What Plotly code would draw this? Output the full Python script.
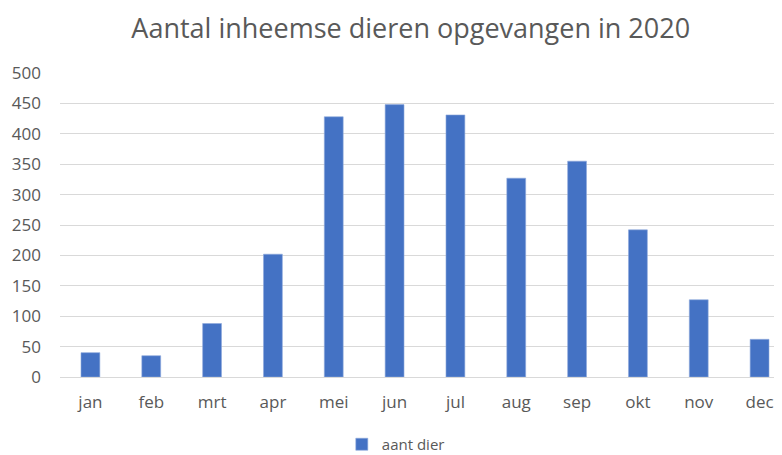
import plotly.graph_objects as go

months = ["jan", "feb", "mrt", "apr", "mei", "jun", "jul", "aug", "sep", "okt", "nov", "dec"]
aant_dier = [40, 35, 88, 202, 428, 448, 431, 327, 355, 242, 127, 62]
series_name = "aant dier"
title_text = "Aantal inheemse dieren opgevangen in 2020"
y_ticks = [0, 50, 100, 150, 200, 250, 300, 350, 400, 450, 500]

fig = go.Figure()
fig.add_trace(go.Bar(
    x=list(range(len(months))), y=aant_dier, name=series_name,
    marker=dict(color="#4472C4", line=dict(color="#8FAADC", width=0.6)),
    width=0.31, showlegend=True,
))

fig.update_layout(
    width=782, height=455,
    margin=dict(l=52, r=0, t=65, b=86),
    paper_bgcolor="white", plot_bgcolor="white",
    font=dict(family="Open Sans", color="#595959", size=15),
    title=dict(text=title_text, x=0.515, xanchor="center", y=0.955, yanchor="middle",
               font=dict(size=27, color="#595959")),
    xaxis=dict(
        tickmode="array", tickvals=list(range(len(months))), ticktext=months,
        range=[-0.5, 11.5], showgrid=False, zeroline=False, showline=False,
        ticks="", ticklabelstandoff=13, tickfont=dict(size=17),
    ),
    yaxis=dict(
        range=[0, 500], tickvals=y_ticks, showgrid=True, gridcolor="#D9D9D9", gridwidth=1,
        zeroline=True, zerolinecolor="#D9D9D9", zerolinewidth=1, showline=False,
        ticks="", ticklabelstandoff=18, tickfont=dict(size=17),
    ),
    showlegend=True,
    legend=dict(orientation="h", x=0.46, xanchor="center", y=-0.222, yanchor="middle",
                font=dict(size=15), itemwidth=30),
    bargap=0.69,
)

fig.write_html("out.html")
